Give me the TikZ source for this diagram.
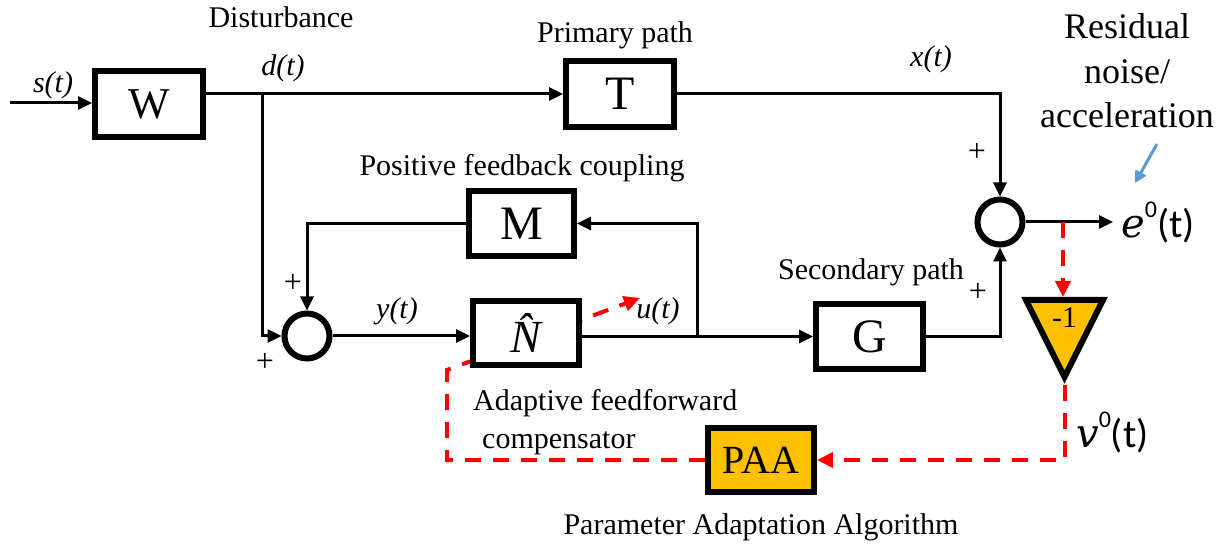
\documentclass[tikz,border=0pt]{standalone}
\usepackage{fontspec}
\setmainfont{Liberation Serif}
\newfontfamily\calib{Carlito}
\newfontfamily\cambr{DejaVu Serif}
\usetikzlibrary{arrows.meta,shapes.geometric,backgrounds}
\definecolor{paaorange}{HTML}{FFC000}
\definecolor{adred}{HTML}{FF0000}
\definecolor{noteblue}{HTML}{5B9BD5}
\newcommand\supzero{\raisebox{20pt}{\fontsize{24}{28}\selectfont 0}}
\begin{document}
\begin{tikzpicture}[x=1pt,y=-1pt,
  blk/.style={draw, line width=6pt, fill=white, inner sep=0pt, font=\fontsize{48}{56}\selectfont},
  sumc/.style={circle, draw, line width=6pt, fill=white, minimum size=45pt, inner sep=0pt},
  conn/.style={line width=3pt, -{Triangle[length=14pt,width=13pt]}},
  adapt/.style={draw=adred, line width=4pt, dash pattern=on 16pt off 12pt, -{Triangle[length=16pt,width=15pt]}},
  lbl/.style={font=\fontsize{30}{38}\selectfont, inner sep=0pt},
  sig/.style={font=\fontsize{30}{36}\selectfont\itshape, inner sep=0pt},
  pls/.style={font=\fontsize{32}{36}\selectfont, inner sep=0pt},
  bignote/.style={font=\fontsize{40}{48}\selectfont\calib, inner xsep=8pt, inner ysep=0pt, anchor=west},
  negtri/.style={isosceles triangle, isosceles triangle stretches, shape border rotate=270,
    minimum width=77pt, minimum height=77pt, draw, line width=6pt, fill=paaorange,
    inner sep=0pt, font=\fontsize{30}{34}\selectfont},
  bluearr/.style={draw=noteblue, line width=3pt, -{Triangle[length=12pt,width=12pt]}}
]
\useasboundingbox (0,0) rectangle (1221,545);

% blocks
\node[blk, font=\fontsize{44}{52}\selectfont, minimum width=108pt, minimum height=66pt] (W) at (149,104) {W};
\node[blk, minimum width=108pt, minimum height=66pt] (T) at (620,94) {T};
\node[blk, minimum width=105pt, minimum height=65pt] (M) at (521.5,223.5) {M};
\node[blk, font=\fontsize{46}{52}\selectfont\itshape, minimum width=106pt, minimum height=64pt] (N) at (526,333) {\^{N}};
\node[blk, minimum width=107pt, minimum height=65pt] (G) at (869.5,336.5) {G};
\node[blk, fill=paaorange, font=\fontsize{40}{48}\selectfont, minimum width=106pt, minimum height=64pt] (PAA) at (761,460) {PAA};
\node[sumc] (S1) at (307,336) {};
\node[sumc] (S2) at (1000,222) {};
\node[negtri, anchor=lower side] (neg) at (1064.5,297) {\raisebox{6pt}{-1}};

% output labels
\node[bignote] (eout) at (1113,222) {{\cambr\itshape e}\supzero(t)};
\node[bignote] (vout) at (1068,432) {{\cambr\itshape v}\supzero(t)};

% coordinates
\coordinate (sin) at (10,103);
\coordinate (dsplit) at (262,94);
\coordinate (ubr) at (697,336.5);
\coordinate (rsplit) at (1063,222);
\coordinate (adturn) at (447,370);
\coordinate (adtip) at (640,298);
\coordinate (bstart) at (1157,144);
\coordinate (bend) at (1135,183);

% adaptation path behind N
\begin{pgfonlayer}{background}
\draw[adapt] (PAA.west) -| (adturn) -- (adtip);
\end{pgfonlayer}

% connectors
\draw[conn] (sin) -- (sin -| W.west);
\draw[conn] (W.east |- T.west) -- (T.west);
\draw[conn] (dsplit) |- (S1.west);
\draw[conn] (M.west) -| (S1.north);
\draw[conn] (S1.east) -- (S1.east -| N.west);
\draw[conn] (N.east |- G.west) -- (G.west);
\draw[conn] (ubr) |- (M.east);
\draw[conn] (G.east) -| (S2.south);
\draw[conn] (T.east) -| (S2.north);
\draw[conn] (S2.east) -- (eout.west);
\draw[adapt] (rsplit) -- (rsplit |- neg.north);
\draw[adapt] (neg.apex) |- (PAA.east);
\draw[bluearr] (bstart) -- (bend);

% labels
\node[sig] (slbl) at (53,85) {s(t)};
\node[lbl, anchor=base] (dist) at (281,28) {Disturbance};
\node[sig] (dlbl) at (283,68) {d(t)};
\node[lbl, anchor=base] (prim) at (615,43) {Primary path};
\node[sig] (xlbl) at (931,59) {x(t)};
\node[font=\fontsize{36}{44.5}\selectfont, align=center, anchor=base, inner sep=0pt] (resid) at (1127,128) {Residual\\noise/\\acceleration};
\node[lbl, anchor=base] (posfb) at (522,176) {Positive feedback coupling};
\node[sig] (ylbl) at (397,311) {y(t)};
\node[sig] (ulbl) at (658,311) {u(t)};
\node[lbl, anchor=base] (sec) at (871,280) {Secondary path};
\node[lbl, align=left, anchor=base west] (adlbl) at (473,448) {Adaptive feedforward\\\hspace*{9pt}compensator};
\node[lbl, anchor=base] (paalbl) at (761,534) {Parameter Adaptation Algorithm};
\node[pls] (p1) at (293,283) {+};
\node[pls] (p2) at (265,362) {+};
\node[pls] (p3) at (977,152) {+};
\node[pls] (p4) at (978,292) {+};
\end{tikzpicture}
\end{document}
